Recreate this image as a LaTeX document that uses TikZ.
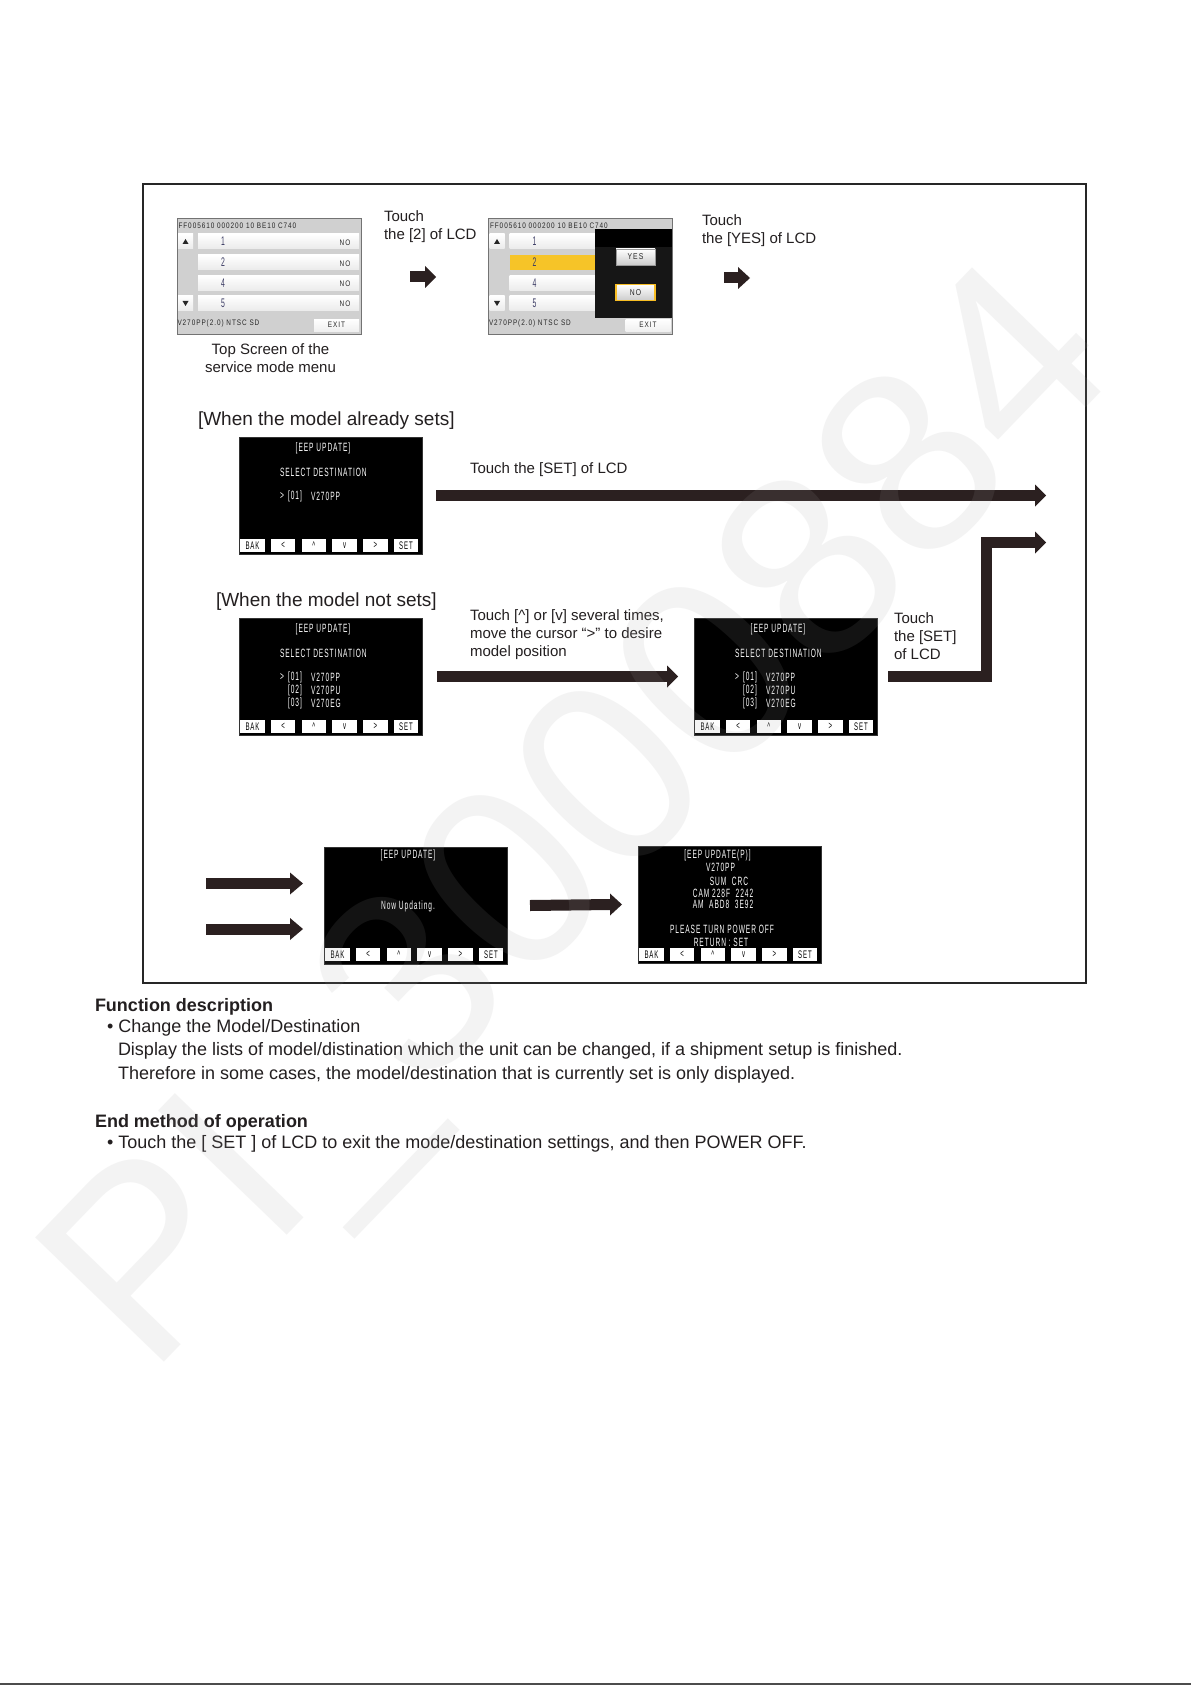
\documentclass[tikz,border=0pt]{standalone}
\usepackage{fontspec}
\setmainfont{Liberation Sans}
\newfontfamily\lcdf[FakeStretch=0.55,LetterSpace=8]{Liberation Sans}
\newfontfamily\menuf[FakeStretch=0.8,LetterSpace=12]{Liberation Sans}
\usetikzlibrary{calc}
\definecolor{ink}{RGB}{35,31,32}
\definecolor{arrowc}{RGB}{43,32,32}
\definecolor{menubg}{RGB}{208,208,208}
\definecolor{selyel}{RGB}{246,196,40}
\definecolor{numc}{RGB}{60,60,100}
\definecolor{popbg}{RGB}{22,22,22}
\definecolor{wmark}{RGB}{160,160,160}

\newcommand\harrow[3]{% start, tip, head length
  \draw[shaft] (#1) -- ($(#2)+(-#3+0.5,0)$);
  \fill[arrowc] (#2) -- ++(-#3,11) -- ++(0,-22) -- cycle;}

\newcommand\lcdbtns[3]{% name, left, bottom
  \foreach \lab [count=\i from 0] in {BAK,<,\textasciicircum,v,>,SET}
    \node[lcdbtn] (#1b\i) at ({#2+13.5+30.7*\i},{#3-8.5}) {\lab};}

\newcommand\selscreen[3]{% name, left, top
  \node[lcd,anchor=north west] (#1) at (#2,#3) {};
  \node[lcdtxt] (#1t) at ({#2+84},{#3+11}) {[EEP UPDATE]};
  \node[lcdtxt,anchor=west] (#1s) at ({#2+41},{#3+35}) {SELECT DESTINATION};
  \node[lcdtxt] (#1c) at ({#2+43},{#3+59}) {>};
  \lcdbtns{#1}{#2}{#3+117}}

\newcommand\selitem[5]{% name, left, y, number, model
  \node[lcdtxt,anchor=west] (#1a) at ({#2+49},#3) {[#4]};
  \node[lcdtxt,anchor=west] (#1b) at ({#2+72},#3) {#5};}

\newcommand\menuscreen[4]{% name, left, top, style of row 2
  \node[menuscr,anchor=north west] (#1) at (#2,#3) {};
  \node[menutxt,anchor=west] (#1h) at ({#2+1.5},{#3+7.5}) {FF005610 000200 10 BE10 C740};
  \path[row] ({#2+21},{#3+16}) rectangle ({#2+182},{#3+31});
  \path[#4] ({#2+21},{#3+37}) rectangle ({#2+182},{#3+52});
  \path[row] ({#2+21},{#3+57.5}) rectangle ({#2+182},{#3+73});
  \path[row] ({#2+21},{#3+77.5}) rectangle ({#2+182},{#3+93});
  \path[row] ({#2+1},{#3+16}) rectangle ({#2+16},{#3+31});
  \path[row] ({#2+1},{#3+77.5}) rectangle ({#2+16},{#3+93});
  \fill[black!85] ({#2+8.5},{#3+21}) -- ++(-3,5) -- ++(6,0) -- cycle;
  \fill[black!85] ({#2+8.5},{#3+88}) -- ++(-3,-5) -- ++(6,0) -- cycle;
  \foreach \yy/\nn in {23.5/1,44.5/2,65.2/4,85.2/5}{
    \node[rownum] (#1n\nn) at ({#2+46},{#3+\yy}) {\nn};
    \node[menutxt] (#1o\nn) at ({#2+168},{#3+\yy+1}) {NO};}
  \node[menutxt,anchor=west] (#1f) at ({#2+0.5},{#3+105}) {V270PP(2.0) NTSC SD};
  \node[exitbtn] (#1x) at ({#2+159.5},{#3+107}) {EXIT};}

\begin{document}
\begin{tikzpicture}[x=1pt,y=-1pt,
  every node/.style={inner sep=0pt,outer sep=0pt},
  body/.style={anchor=west,text=ink,font=\fontsize{18}{22}\selectfont},
  bodyb/.style={anchor=west,text=ink,font=\fontsize{18}{22}\selectfont\bfseries},
  lbl/.style={anchor=west,align=left,text=ink,font=\fontsize{15}{18}\selectfont},
  head/.style={anchor=west,text=ink,font=\fontsize{19}{23}\selectfont},
  lcd/.style={fill=black,draw=black!80,minimum width=183,minimum height=117},
  lcdtxt/.style={text=white,font=\lcdf\fontsize{12}{12}\selectfont},
  lcdbtn/.style={fill=white,minimum width=24.5,minimum height=13,text=black,font=\lcdf\fontsize{11}{11}\selectfont},
  menuscr/.style={fill=menubg,draw=black!55,line width=0.8,minimum width=184,minimum height=116},
  menutxt/.style={text=black!85,font=\menuf\fontsize{8}{9}\selectfont},
  rownum/.style={text=numc,font=\lcdf\fontsize{12.5}{13}\selectfont},
  row/.style={top color=white,bottom color=black!8},
  selrow/.style={fill=selyel},
  exitbtn/.style={top color=white,bottom color=black!6,minimum width=45,minimum height=12,text=black!85,font=\menuf\fontsize{8}{9}\selectfont},
  popbtn/.style={top color=white,bottom color=black!20,draw=black!40,minimum width=39,minimum height=16,text=black!85,font=\menuf\fontsize{8.5}{9}\selectfont},
  shaft/.style={draw=arrowc,line width=11},
  wm/.style={text=wmark,text opacity=0.12,rotate=46,font=\fontsize{260}{260}\selectfont},
]
\useasboundingbox (0,0) rectangle (1191,1685);
\fill[white] (0,0) rectangle (1191,1685);

% frame
\draw[line width=1.4,black!85] (143,184) rectangle (1086,983);

% --- top row -----------------------------------------------------------
\menuscreen{m1}{177}{218}{row}
\node[lbl,align=center,anchor=center] (m1cap) at (270.5,358) {Top Screen of the\\service mode menu};
\node[lbl] (t1) at (384,227) {Touch\\the [2] of LCD};
\coordinate (a1s) at (410,277);
\coordinate (a1e) at (436,277);
\harrow{a1s}{a1e}{11}

\menuscreen{m2}{488.5}{218}{selrow}
\node[fill=popbg,minimum width=77,minimum height=89,anchor=north west] (pop) at (595,229) {};
\fill[black] (pop.north west) rectangle ($(pop.north east)+(0,18)$);
\node[popbtn] (yes) at (635.5,257) {YES};
\node[popbtn,draw=selyel!90!orange,line width=1.4] (no) at (635.5,292.5) {NO};
\node[lbl] (t2) at (702,231) {Touch\\the [YES] of LCD};
\coordinate (a2s) at (724,278);
\coordinate (a2e) at (750,278);
\harrow{a2s}{a2e}{12}

% --- model already sets ---------------------------------------------------
\node[head] (h1) at (198,421) {[When the model already sets]};
\selscreen{s3}{239}{437}
\selitem{s3i1}{239}{496}{01}{V270PP}
\node[lbl] (t3) at (470,470) {Touch the [SET] of LCD};
\coordinate (a3s) at ($(s3.east)+(14,0)$);
\coordinate (a3e) at (1046,495.5);
\harrow{a3s}{a3e}{11}

% --- model not sets ---------------------------------------------------------
\node[head] (h2) at (216,602) {[When the model not sets]};
\selscreen{s4}{239}{618}
\selitem{s4i1}{239}{677}{01}{V270PP}
\selitem{s4i2}{239}{690}{02}{V270PU}
\selitem{s4i3}{239}{703}{03}{V270EG}
\node[lbl] (t4) at (470,635) {Touch [\textasciicircum] or [v] several times,\\move the cursor “>” to desire\\model position};
\selscreen{s5}{694}{618}
\selitem{s5i1}{694}{677}{01}{V270PP}
\selitem{s5i2}{694}{690}{02}{V270PU}
\selitem{s5i3}{694}{703}{03}{V270EG}
\coordinate (a4s) at ($(s4.east)+(15,0)$);
\coordinate (a4e) at ($(s5.west)+(-16,0)$);
\harrow{a4s}{a4e}{11}
\node[lbl] (t5) at (894,636) {Touch\\the [SET]\\of LCD};
\coordinate (a5s) at ($(s5.east)+(11,0)$);
\coordinate (a5m) at (986.5,542.5);
\coordinate (a5e) at (1046,542.5);
\draw[shaft,line join=miter] (a5s) -| (a5m) -- ($(a5e)+(-10.5,0)$);
\fill[arrowc] (a5e) -- ++(-11,11) -- ++(0,-22) -- cycle;

% --- bottom row -------------------------------------------------------------
\node[lcd,anchor=north west] (s6) at (324,847) {};
\node[lcdtxt] (s6t) at (408,855) {[EEP UPDATE]};
\node[lcdtxt] (s6u) at (408,906) {Now Updating.};
\lcdbtns{s6}{324}{963}
\coordinate (b1s) at (206,883.5);
\coordinate (b1e) at (303,883.5);
\harrow{b1s}{b1e}{13}
\coordinate (b2s) at (206,929);
\coordinate (b2e) at (303,929);
\harrow{b2s}{b2e}{13}

\node[lcd,anchor=north west] (s7) at (638,846) {};
\node[lcdtxt] (s7a) at (717.5,855) {[EEP UPDATE(P)]};
\node[lcdtxt] (s7b) at (720.5,867) {V270PP};
\node[lcdtxt] (s7c) at (729,881) {SUM\ \ CRC};
\node[lcdtxt] (s7d) at (723,893) {CAM 228F\ \ 2242};
\node[lcdtxt] (s7e) at (723,904) {AM\ \ ABD8\ \ 3E92};
\node[lcdtxt] (s7f) at (722,929) {PLEASE TURN POWER OFF};
\node[lcdtxt] (s7g) at (721,942) {RETURN : SET};
\lcdbtns{s7}{638}{963}
\coordinate (b3s) at ($(s6.east)+(23,0)$);
\coordinate (b3e) at ($(s7.west)+(-16,0)$);
\harrow{b3s}{b3e}{12}

% --- text below -------------------------------------------------------------
\node[bodyb] (fd) at (95,1007) {Function description};
\node[body] (fd1) at (107,1028) {• Change the Model/Destination};
\node[body] (fd2) at (118,1051) {Display the lists of model/distination which the unit can be changed, if a shipment setup is finished.};
\node[body] (fd3) at (118,1075) {Therefore in some cases, the model/destination that is currently set is only displayed.};
\node[bodyb] (em) at (95,1123) {End method of operation};
\node[body] (em1) at (107,1144) {• Touch the [ SET ] of LCD to exit the mode/destination settings, and then POWER OFF.};

\draw[black!70,line width=1.2] (0,1684) -- (1191,1684);

% faint watermark
\node[wm] (wmk) at (590,828) {PI\_3000884};
\end{tikzpicture}
\end{document}
